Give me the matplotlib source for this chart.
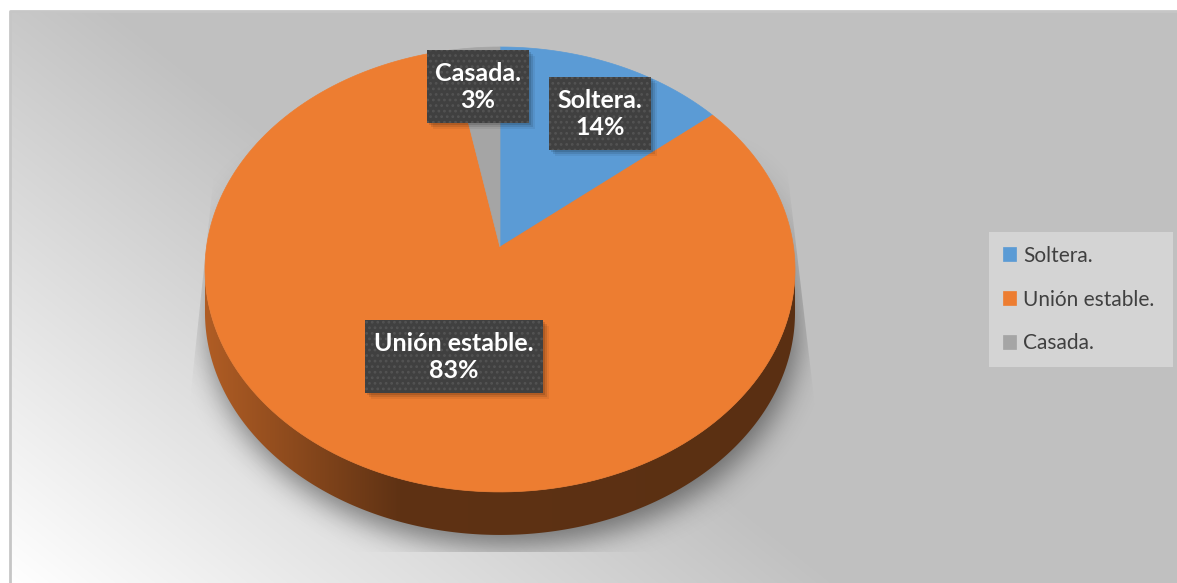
import numpy as np
import matplotlib.pyplot as plt
from matplotlib.patches import Polygon, Rectangle
from matplotlib.path import Path
from matplotlib.colors import to_rgb

W, H = 1177, 583

categorias = ['Soltera.', 'Unión estable.', 'Casada.']
porcentajes = [14, 83, 3]
colores = ['#5b9bd5', '#ed7d31', '#a5a5a5']

# centros de las cajas de etiqueta (px)
pos_etiquetas = [(600, 113), (454, 356), (478, 86)]
tam_etiquetas = [(102, 73), (178, 73), (102, 73)]

# geometria del pastel en perspectiva
cx, cy = 500, 247
rx, ry = 293.5, 220.2
persp = 0.101
prof = 43

plt.rcParams['font.family'] = ['Lato', 'DejaVu Sans']
plt.rcParams['hatch.linewidth'] = 1.2


def proyectar(theta, dy=0.0):
    u, v = np.cos(theta), np.sin(theta)
    d = 1 + persp * v
    return cx + rx * u / d, cy - ry * v / d + dy


def difuminar(img, sigma):
    k = np.arange(-3 * sigma, 3 * sigma + 1)
    g = np.exp(-k ** 2 / (2.0 * sigma ** 2))
    g /= g.sum()
    img = np.apply_along_axis(lambda r: np.convolve(r, g, mode='same'), 1, img)
    img = np.apply_along_axis(lambda c: np.convolve(c, g, mode='same'), 0, img)
    return img


fig = plt.figure(figsize=(W / 100, H / 100), dpi=100)
ax = fig.add_axes([0, 0, 1, 1])
ax.set_xlim(0, W)
ax.set_ylim(H, 0)
ax.axis('off')

# fondo degradado
xx, yy = np.meshgrid(np.arange(W) + 0.5, np.arange(H) + 0.5)
t = np.clip(0.0012 * (xx - 10) + 0.00152 * (H - yy), 0, 1)
gris = (255 - 63 * t) / 255.0
fondo = np.dstack([gris, gris, gris])
fondo[:11, :] = 1.0
fondo[:, :10] = 1.0
ax.imshow(fondo, extent=(0, W, H, 0), zorder=0, interpolation='bilinear')
ax.plot([10, 10, W], [H, 11, 11], color='#c6c6c6', lw=2, zorder=1)

# contorno del pastel y del canto
th = np.linspace(0, 2 * np.pi, 721)
ex, ey = proyectar(th)
a0 = np.pi + np.arcsin(persp)
a1 = 2 * np.pi - np.arcsin(persp)
tf = np.linspace(a0, a1, 400)
fx, fy = proyectar(tf)
fbx, fby = proyectar(tf[::-1], prof)
canto = np.column_stack([np.r_[fx, fbx], np.r_[fy, fby]])

# sombra difusa, mas intensa hacia abajo
pts = np.column_stack([xx.ravel() - 4, yy.ravel() - 12])
mascara = (Path(np.column_stack([ex, ey])).contains_points(pts) |
           Path(canto).contains_points(pts)).reshape(H, W).astype(float)
sombra = difuminar(mascara, 14)
rampa = np.clip((yy - 130) / 220.0, 0, 1)
rgba = np.zeros((H, W, 4))
rgba[..., 3] = 0.45 * sombra * rampa
im_s = ax.imshow(rgba, extent=(0, W, H, 0), zorder=1, interpolation='bilinear')
trap = Polygon([(228, 40), (174, 552), (832, 552), (772, 40)], closed=True,
               transform=ax.transData, facecolor='none', edgecolor='none')
ax.add_patch(trap)
im_s.set_clip_path(trap)

# canto con degradado horizontal
base = np.array(to_rgb(colores[1]))
xs = np.linspace(200, 800, 600)
tono = np.interp(xs, [207, 300, 400, 800], [0.74, 0.58, 0.40, 0.38])
franja = np.clip(base[None, :] * tono[:, None], 0, 1)[None, :, :]
p_canto = Polygon(canto, closed=True, facecolor='none', edgecolor='none', zorder=2)
ax.add_patch(p_canto)
im_c = ax.imshow(franja, extent=(200, 800, 545, 240), aspect='auto', zorder=2)
im_c.set_clip_path(p_canto)

# porciones (empiezan a las 12 y giran en sentido horario)
frac = np.array(porcentajes) / np.sum(porcentajes)
lim = np.pi / 2 - 2 * np.pi * np.r_[0, np.cumsum(frac)]
cunas = []
for i, cat in enumerate(categorias):
    tt = np.linspace(lim[i], lim[i + 1], 200)
    px, py = proyectar(tt)
    verts = np.column_stack([np.r_[cx, px], np.r_[cy, py]])
    w = Polygon(verts, closed=True, facecolor=colores[i], edgecolor=colores[i],
                lw=0.5, zorder=3, label=cat)
    ax.add_patch(w)
    cunas.append(w)

# etiquetas de datos
for i, cat in enumerate(categorias):
    x0, y0 = pos_etiquetas[i]
    bw, bh = tam_etiquetas[i]
    for k, al in [(2, 0.12), (4, 0.10), (6, 0.06)]:
        ax.add_patch(Rectangle((x0 - bw / 2 + k, y0 - bh / 2 + k), bw, bh,
                               facecolor='black', alpha=al, lw=0, zorder=4))
    ax.add_patch(Rectangle((x0 - bw / 2, y0 - bh / 2), bw, bh, facecolor='#404040',
                           edgecolor='#535353', lw=0, hatch='...', zorder=5))
    ax.text(x0, y0 + 1, f'{cat}\n{porcentajes[i]}%', ha='center', va='center',
            color='white', fontsize=18, fontweight='bold', linespacing=1.22,
            zorder=6)

# leyenda
leg = ax.legend(handles=cunas, loc='upper left',
                bbox_to_anchor=(989 / W, 1 - 368 / H, 184 / W, 136 / H),
                mode='expand', borderaxespad=0, fontsize=15,
                handlelength=0.65, handleheight=0.65, handletextpad=0.35,
                labelspacing=1.15, borderpad=0.65, fancybox=False,
                facecolor='#d4d4d4', edgecolor='none', framealpha=1,
                labelcolor='#404040')
leg.set_zorder(7)

fig.savefig('out.png', dpi=100)
